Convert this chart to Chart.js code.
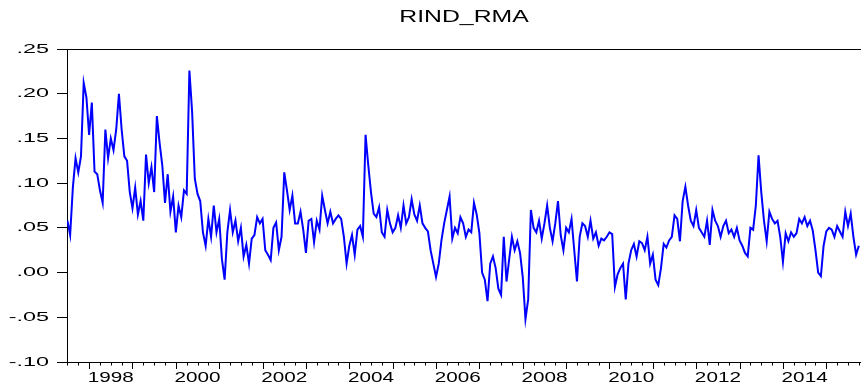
<!DOCTYPE html>
<html>
<head>
<meta charset="utf-8">
<script src="https://cdn.jsdelivr.net/npm/chart.js@4.4.1/dist/chart.umd.min.js"></script>
<style>
  html, body { margin: 0; padding: 0; background: #fff; }
  #wrap { width: 861px; height: 390px; }
</style>
</head>
<body>
<div id="wrap"><canvas id="rind-chart"></canvas></div>
<script>
//
// RIND_RMA - data
//

// first observation and sampling (16 readings a year)
const firstObs = 1997.5;
const obsPerYear = 16;

const rind = [
  0.058, 0.042, 0.095, 0.128, 0.112, 0.130, 0.212, 0.196,
  // 1998
  0.154, 0.190, 0.113, 0.110, 0.092, 0.078, 0.160, 0.128, 0.150, 0.137, 0.160, 0.200, 0.160, 0.130, 0.125, 0.090,
  // 1999
  0.072, 0.095, 0.065, 0.080, 0.058, 0.132, 0.100, 0.118, 0.090, 0.175, 0.145, 0.120, 0.078, 0.110, 0.068, 0.085,
  // 2000
  0.045, 0.075, 0.062, 0.092, 0.088, 0.226, 0.180, 0.105, 0.088, 0.080, 0.045, 0.030, 0.060, 0.040, 0.075, 0.045,
  // 2001
  0.060, 0.015, -0.008, 0.045, 0.070, 0.045, 0.058, 0.035, 0.050, 0.018, 0.031, 0.010, 0.038, 0.042, 0.062, 0.055,
  // 2002
  0.060, 0.025, 0.020, 0.014, 0.050, 0.056, 0.025, 0.040, 0.112, 0.092, 0.070, 0.086, 0.055, 0.055, 0.068, 0.048,
  // 2003
  0.022, 0.058, 0.060, 0.034, 0.058, 0.048, 0.086, 0.070, 0.055, 0.068, 0.055, 0.060, 0.064, 0.060, 0.040, 0.010,
  // 2004
  0.030, 0.042, 0.020, 0.048, 0.052, 0.040, 0.154, 0.120, 0.090, 0.066, 0.062, 0.073, 0.045, 0.040, 0.070, 0.055,
  // 2005
  0.045, 0.050, 0.064, 0.050, 0.075, 0.055, 0.062, 0.082, 0.065, 0.058, 0.075, 0.055, 0.050, 0.046, 0.025, 0.010,
  // 2006
  -0.005, 0.010, 0.036, 0.055, 0.070, 0.085, 0.038, 0.050, 0.044, 0.062, 0.055, 0.040, 0.048, 0.045, 0.078, 0.065,
  // 2007
  0.044, 0.000, -0.008, -0.032, 0.010, 0.018, 0.005, -0.018, -0.025, 0.040, -0.010, 0.015, 0.040, 0.025, 0.035, 0.022,
  // 2008
  -0.005, -0.052, -0.030, 0.070, 0.050, 0.045, 0.058, 0.038, 0.055, 0.075, 0.050, 0.035, 0.055, 0.080, 0.042, 0.025,
  // 2009
  0.050, 0.045, 0.060, 0.025, -0.010, 0.040, 0.055, 0.052, 0.040, 0.058, 0.038, 0.045, 0.030, 0.038, 0.036, 0.040,
  // 2010
  0.045, 0.043, -0.016, -0.002, 0.005, 0.010, -0.030, 0.010, 0.025, 0.032, 0.018, 0.035, 0.033, 0.025, 0.040, 0.010,
  // 2011
  0.020, -0.008, -0.014, 0.005, 0.032, 0.028, 0.036, 0.040, 0.064, 0.060, 0.035, 0.080, 0.096, 0.075, 0.058, 0.052,
  // 2012
  0.070, 0.050, 0.045, 0.040, 0.058, 0.031, 0.070, 0.058, 0.052, 0.040, 0.052, 0.058, 0.044, 0.048, 0.040, 0.050,
  // 2013
  0.036, 0.030, 0.022, 0.018, 0.050, 0.048, 0.075, 0.131, 0.090, 0.058, 0.035, 0.068, 0.060, 0.055, 0.058, 0.040,
  // 2014
  0.012, 0.044, 0.035, 0.045, 0.040, 0.044, 0.060, 0.055, 0.062, 0.052, 0.058, 0.047, 0.025, 0.000, -0.004, 0.030,
  // 2015
  0.046, 0.050, 0.048, 0.040, 0.052, 0.046, 0.040, 0.068, 0.052, 0.066, 0.040, 0.020, 0.030
];

// labelled years (label sits in the middle of the year)
const labelYears = [1998, 2000, 2002, 2004, 2006, 2008, 2010, 2012, 2014];

const xMin = 1997.49;
const xMax = 2015.8;

//
// plugins
//

// EViews prints its text wide - stretch each string sideways around its anchor
const textStretch = { 16: 1.55, 15: 1.38, 13: 1.8 };
const wideText = {
  id: 'wideText',
  beforeInit(chart) {
    const ctx = chart.ctx;
    const fill = ctx.fillText;
    ctx.fillText = function (text, x, y, maxWidth) {
      const m = /([\d.]+)px/.exec(this.font);
      const sx = (m && textStretch[parseFloat(m[1])]) || 1;
      this.save();
      this.translate(x, y);
      this.scale(sx, 1);
      if (maxWidth === undefined) fill.call(this, text, 0, 0);
      else fill.call(this, text, 0, 0, maxWidth / sx);
      this.restore();
    };
  }
};

// quarter / year tick marks under the date axis, plus top frame line
const dateTicks = {
  id: 'dateTicks',
  afterDraw(chart) {
    const ctx = chart.ctx;
    const x = chart.scales.x;
    const area = chart.chartArea;
    const bottom = Math.round(area.bottom);
    ctx.save();
    ctx.strokeStyle = '#000';
    ctx.lineWidth = 1;
    ctx.beginPath();
    for (let q = Math.ceil(xMin * 4); q <= xMax * 4; q++) {
      const px = Math.round(x.getPixelForValue(q / 4)) + 0.5;
      const len = q % 4 === 0 ? 7 : 3.5;
      ctx.moveTo(px, bottom);
      ctx.lineTo(px, bottom + len);
    }
    const top = Math.round(area.top) + 0.5;
    ctx.moveTo(area.left, top);
    ctx.lineTo(area.right, top);
    ctx.stroke();
    ctx.restore();
  }
};

//
// chart
//

Chart.defaults.font.family = "'Liberation Sans', Arial, sans-serif";
Chart.defaults.color = '#000';

const data = {
  datasets: [{
    label: 'RIND_RMA',
    data: rind.map((v, i) => ({ x: firstObs + i / obsPerYear, y: v })),
    borderColor: '#0000ff',
    borderWidth: 2,
    pointRadius: 0,
    tension: 0,
    fill: false
  }]
};

const config = {
  type: 'line',
  data: data,
  plugins: [wideText, dateTicks],
  options: {
    responsive: true,
    maintainAspectRatio: false,
    animation: false,
    layout: { padding: 0 },
    plugins: {
      legend: { display: false },
      tooltip: { enabled: false },
      title: {
        display: true,
        text: 'RIND_RMA',
        fullSize: false,
        font: { size: 16, weight: 'normal' },
        padding: { top: 8, bottom: 21.8 }
      }
    },
    scales: {
      x: {
        type: 'linear',
        min: xMin,
        max: xMax,
        grid: { display: false, drawTicks: false },
        border: { display: true, color: '#000', width: 1 },
        afterBuildTicks: (scale) => {
          scale.ticks = labelYears.map(y => ({ value: y + 0.5 }));
        },
        afterFit: (scale) => { scale.height = 28; },
        ticks: {
          autoSkip: false,
          maxRotation: 0,
          padding: 8,
          font: { size: 15, lineHeight: 1 },
          callback: (v) => String(Math.floor(v))
        }
      },
      y: {
        min: -0.10,
        max: 0.25,
        grid: { drawOnChartArea: false, drawTicks: true, tickLength: 10, tickColor: '#000' },
        border: { display: true, color: '#000', width: 1 },
        afterFit: (scale) => { scale.width = 67; },
        ticks: {
          stepSize: 0.05,
          padding: 8,
          font: { size: 13 },
          callback: (v) => (v < -1e-9 ? '-' : '') + Math.abs(v).toFixed(2).slice(1)
        }
      }
    }
  }
};

const rindChart = new Chart(document.getElementById('rind-chart'), config);
</script>
</body>
</html>
